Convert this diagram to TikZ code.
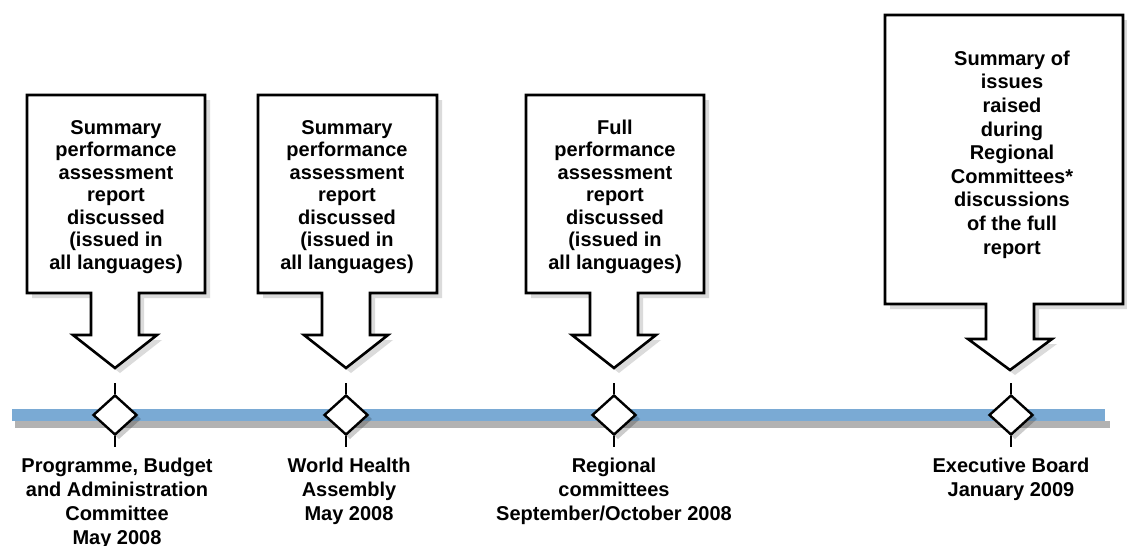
\documentclass[tikz,border=0pt]{standalone}
\usepackage{fontspec}
\setmainfont{Liberation Sans}
\usetikzlibrary{shapes.geometric}
\definecolor{barblue}{RGB}{122,170,212}
\begin{document}
\begin{tikzpicture}[x=1pt,y=-1pt,
  callout/.style={draw=black, line width=2.6pt, fill=white, line join=miter},
  shadowsty/.style={fill=black, opacity=0.14},
  milestone/.style={shape=diamond, draw=black, line width=2.4pt, fill=white,
    minimum width=44pt, minimum height=40pt, inner sep=0pt},
  tickline/.style={line width=2.4pt},
  boxtext/.style={font=\fontsize{20}{22.5}\selectfont\bfseries, align=center, anchor=base, inner sep=0pt},
  bigtext/.style={font=\fontsize{20}{23.6}\selectfont\bfseries, align=center, anchor=base, inner sep=0pt},
  labeltext/.style={font=\fontsize{20}{24}\selectfont\bfseries, align=center, anchor=base, inner sep=0pt}]
\useasboundingbox (0,0) rectangle (1127,546);

% callouts: left/right/top/bottom/center/shaft end/tip
\foreach \l/\r/\t/\b/\c/\s/\p in {27/205/95/293/115/335/368, 258/437/95/293/346/335/368, 526/704/95/293/614/335/368, 885/1123/15/304/1010/339/370}{
  \fill[shadowsty, shift={(5,5)}] (\l,\t) -- (\r,\t) -- (\r,\b) -- (\c+24,\b) -- (\c+24,\s) -- (\c+42,\s) -- (\c,\p) -- (\c-42,\s) -- (\c-24,\s) -- (\c-24,\b) -- (\l,\b) -- cycle;
  \draw[callout] (\l,\t) -- (\r,\t) -- (\r,\b) -- (\c+24,\b) -- (\c+24,\s) -- (\c+42,\s) -- (\c,\p) -- (\c-42,\s) -- (\c-24,\s) -- (\c-24,\b) -- (\l,\b) -- cycle;
}

% text nodes anchored at the baseline of their last line
\node[boxtext] (c1) at (116,269) {Summary\\performance\\assessment\\report\\discussed\\(issued in\\all languages)};
\node[boxtext] (c2) at (347,269) {Summary\\performance\\assessment\\report\\discussed\\(issued in\\all languages)};
\node[boxtext] (c3) at (615,269) {Full\\performance\\assessment\\report\\discussed\\(issued in\\all languages)};
\node[bigtext] (c4) at (1012,254) {Summary of\\issues\\raised\\during\\Regional\\Committees*\\discussions\\of the full\\report};

% timeline bar
\fill[black, opacity=0.3] (15,421) rectangle (1110,428);
\node[fill=barblue, minimum width=1093pt, minimum height=12pt, inner sep=0pt] (bar) at (558.5,415) {};

% milestones
\foreach \i/\x in {1/115, 2/346, 3/614, 4/1011}{
  \fill[black, opacity=0.2, shift={(4,4)}] (\x-22,415) -- (\x,395) -- (\x+22,415) -- (\x,435) -- cycle;
  \node[milestone] (d\i) at (\x,415) {};
  \coordinate (u\i) at (\x,383);
  \coordinate (w\i) at (\x,447);
  \draw[tickline] (u\i) -- (d\i.north);
  \draw[tickline] (d\i.south) -- (w\i);
}

\node[labeltext] (l1) at (117,544) {Programme, Budget\\and Administration\\Committee\\May 2008};
\node[labeltext] (l2) at (349,520) {World Health\\Assembly\\May 2008};
\node[labeltext] (l3) at (614,520) {Regional\\committees\\September/October 2008};
\node[labeltext] (l4) at (1011,496) {Executive Board\\January 2009};
\end{tikzpicture}
\end{document}
